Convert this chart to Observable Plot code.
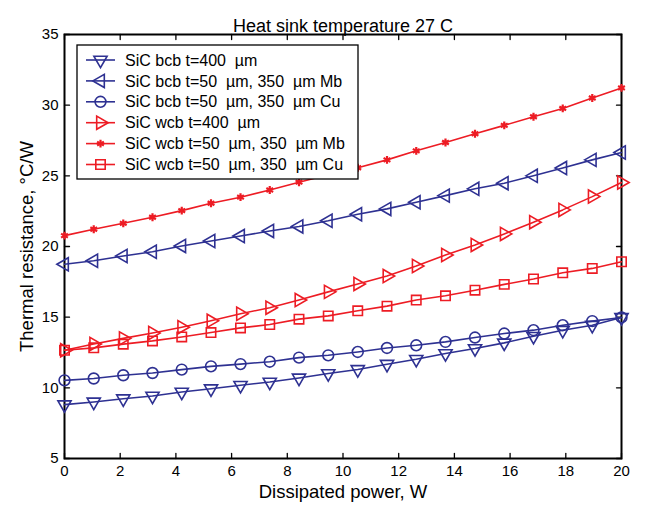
<!DOCTYPE html>
<html>
<head>
<meta charset="utf-8">
<script src="https://cdn.jsdelivr.net/npm/d3@7"></script>
<script src="https://cdn.jsdelivr.net/npm/@observablehq/plot@0.6"></script>
<style>
  html, body { margin: 0; padding: 0; background: white; }
  svg text { white-space: pre; }
</style>
</head>
<body>
<div id="chart"></div>
<script>
// ---- data ----
const power = [0, 1.05, 2.11, 3.16, 4.21, 5.26, 6.32, 7.37, 8.42, 9.47, 10.53, 11.58, 12.63, 13.68, 14.74, 15.79, 16.84, 17.89, 18.95, 20];

const bcb400 = [8.81, 9.00, 9.23, 9.42, 9.70, 9.94, 10.18, 10.41, 10.70, 11.01, 11.30, 11.67, 12.02, 12.43, 12.78, 13.18, 13.65, 14.08, 14.43, 14.98];
const bcbMb  = [18.74, 18.99, 19.33, 19.63, 20.04, 20.39, 20.74, 21.10, 21.42, 21.82, 22.28, 22.66, 23.13, 23.60, 24.08, 24.48, 25.00, 25.55, 26.13, 26.65];
const bcbCu  = [10.53, 10.66, 10.89, 11.05, 11.29, 11.52, 11.68, 11.85, 12.14, 12.30, 12.54, 12.82, 13.01, 13.25, 13.56, 13.84, 14.08, 14.43, 14.72, 14.98];
const wcb400 = [12.66, 13.10, 13.50, 13.88, 14.29, 14.74, 15.24, 15.67, 16.21, 16.79, 17.35, 17.91, 18.62, 19.40, 20.11, 20.89, 21.72, 22.59, 23.53, 24.53];
const wcbMb  = [20.77, 21.22, 21.64, 22.07, 22.54, 23.06, 23.49, 24.00, 24.55, 25.07, 25.57, 26.13, 26.77, 27.36, 27.98, 28.57, 29.18, 29.77, 30.51, 31.22];
const wcbCu  = [12.66, 12.83, 13.09, 13.32, 13.60, 13.91, 14.24, 14.48, 14.86, 15.09, 15.45, 15.78, 16.21, 16.51, 16.91, 17.32, 17.70, 18.14, 18.45, 18.92];

const seriesNames = [
  "SiC bcb t=400  \u00b5m",
  "SiC bcb t=50  \u00b5m, 350  \u00b5m Mb",
  "SiC bcb t=50  \u00b5m, 350  \u00b5m Cu",
  "SiC wcb t=400  \u00b5m",
  "SiC wcb t=50  \u00b5m, 350  \u00b5m Mb",
  "SiC wcb t=50  \u00b5m, 350  \u00b5m Cu"
];
const seriesValues = [bcb400, bcbMb, bcbCu, wcb400, wcbMb, wcbCu];

const xTicks = [0, 2, 4, 6, 8, 10, 12, 14, 16, 18, 20];
const yTicks = [5, 10, 15, 20, 25, 30, 35];

const titleText = "Heat sink temperature 27 C";
const xLabel = "Dissipated power, W";
const yLabel = "Thermal resistance, \u00b0C/W";

// ---- styles ----
const BLUE = "#2e3192";
const RED = "#ed1c24";
const styles = [
  {color: BLUE, symbol: "triangle", rotate: 180, r: 4.9, sw: 1.6},
  {color: BLUE, symbol: "triangle", rotate: -90, r: 4.9, sw: 1.6},
  {color: BLUE, symbol: "circle", rotate: 0, r: 5.4, sw: 1.6},
  {color: RED, symbol: "triangle", rotate: 90, r: 4.9, sw: 1.6},
  {color: RED, symbol: "asterisk", rotate: 0, r: 3.7, sw: 2.2},
  {color: RED, symbol: "square", rotate: 0, r: 5.3, sw: 1.6}
];

const table = [];
seriesNames.forEach((name, si) => {
  power.forEach((p, i) => table.push({series: si, name, x: p, y: seriesValues[si][i]}));
});

const tickShape = {draw(context, l) { context.moveTo(0, 0); context.lineTo(0, -l); }};
const FONT = "'Liberation Sans', Arial, Helvetica, sans-serif";

const M = {left: 64, right: 26, top: 34, bottom: 48};

const marks = [
  Plot.frame({stroke: "black", strokeWidth: 2}),
  // inward ticks on all four sides
  Plot.vector(xTicks, {x: d => d, frameAnchor: "bottom", rotate: 0, length: 5, anchor: "start", shape: tickShape, stroke: "black", strokeWidth: 1.3}),
  Plot.vector(xTicks, {x: d => d, frameAnchor: "top", rotate: 180, length: 5, anchor: "start", shape: tickShape, stroke: "black", strokeWidth: 1.3}),
  Plot.vector(yTicks, {y: d => d, frameAnchor: "left", rotate: 90, length: 5, anchor: "start", shape: tickShape, stroke: "black", strokeWidth: 1.3}),
  Plot.vector(yTicks, {y: d => d, frameAnchor: "right", rotate: -90, length: 5, anchor: "start", shape: tickShape, stroke: "black", strokeWidth: 1.3}),
  Plot.axisX({ticks: xTicks, tickSize: 0, tickPadding: 7, fontSize: 15, label: null}),
  Plot.axisY({ticks: yTicks, tickSize: 0, tickPadding: 6, fontSize: 15, label: null}),
  Plot.text([titleText], {frameAnchor: "top", dy: -15, fontSize: 18, fill: "black", textAnchor: "middle"}),
  Plot.text([xLabel], {frameAnchor: "bottom", dy: 39, fontSize: 18.5, fill: "black", textAnchor: "middle"}),
  Plot.text([yLabel], {frameAnchor: "left", dx: -37, rotate: -90, fontSize: 18.5, fill: "black", textAnchor: "middle"})
];

seriesNames.forEach((name, si) => {
  const s = styles[si];
  const d = table.filter(r => r.series === si);
  marks.push(Plot.line(d, {x: "x", y: "y", stroke: s.color, strokeWidth: 1.6}));
  marks.push(Plot.dot(d, {x: "x", y: "y", symbol: s.symbol, rotate: s.rotate, r: s.r, stroke: s.color, fill: s.symbol === "asterisk" ? s.color : "white", fillOpacity: s.symbol === "asterisk" ? 1 : 0, strokeWidth: s.sw}));
});

const chart = Plot.plot({
  width: 647,
  height: 506,
  marginLeft: M.left,
  marginRight: M.right,
  marginTop: M.top,
  marginBottom: M.bottom,
  style: {fontFamily: FONT, fontSize: "15px", background: "white", color: "black", overflow: "visible"},
  x: {domain: [0, 20]},
  y: {domain: [5, 35]},
  marks
});

// ---- legend box (MATLAB style, top-left inside axes) ----
const svg = d3.select(chart);
const lx = M.left + 13, ly = M.top + 11, lw = 281, lh = 134, rowH = 20.9;
const lg = svg.append("g").attr("font-family", FONT).attr("font-size", 16).attr("text-anchor", "start");
lg.append("rect").attr("x", lx).attr("y", ly).attr("width", lw).attr("height", lh)
  .attr("fill", "white").attr("stroke", "black").attr("stroke-width", 1.3);
const symMap = {triangle: d3.symbolTriangle, circle: d3.symbolCircle, square: d3.symbolSquare, asterisk: d3.symbolAsterisk};
seriesNames.forEach((name, si) => {
  const s = styles[si];
  const cy = ly + 15 + si * rowH;
  const g = lg.append("g");
  g.append("line").attr("x1", lx + 9).attr("x2", lx + 38).attr("y1", cy).attr("y2", cy)
    .attr("stroke", s.color).attr("stroke-width", 1.6);
  g.append("path")
    .attr("d", d3.symbol(symMap[s.symbol], Math.PI * s.r * s.r)())
    .attr("transform", `translate(${lx + 23.5},${cy}) rotate(${s.rotate})`)
    .attr("fill", s.symbol === "asterisk" ? s.color : "none")
    .attr("stroke", s.color).attr("stroke-width", s.sw);
  g.append("text").attr("x", lx + 48).attr("y", cy).attr("dy", "0.35em")
    .attr("fill", "black").attr("text-anchor", "start").style("white-space", "pre").text(name);
});

document.getElementById("chart").appendChild(chart);
</script>
</body>
</html>
